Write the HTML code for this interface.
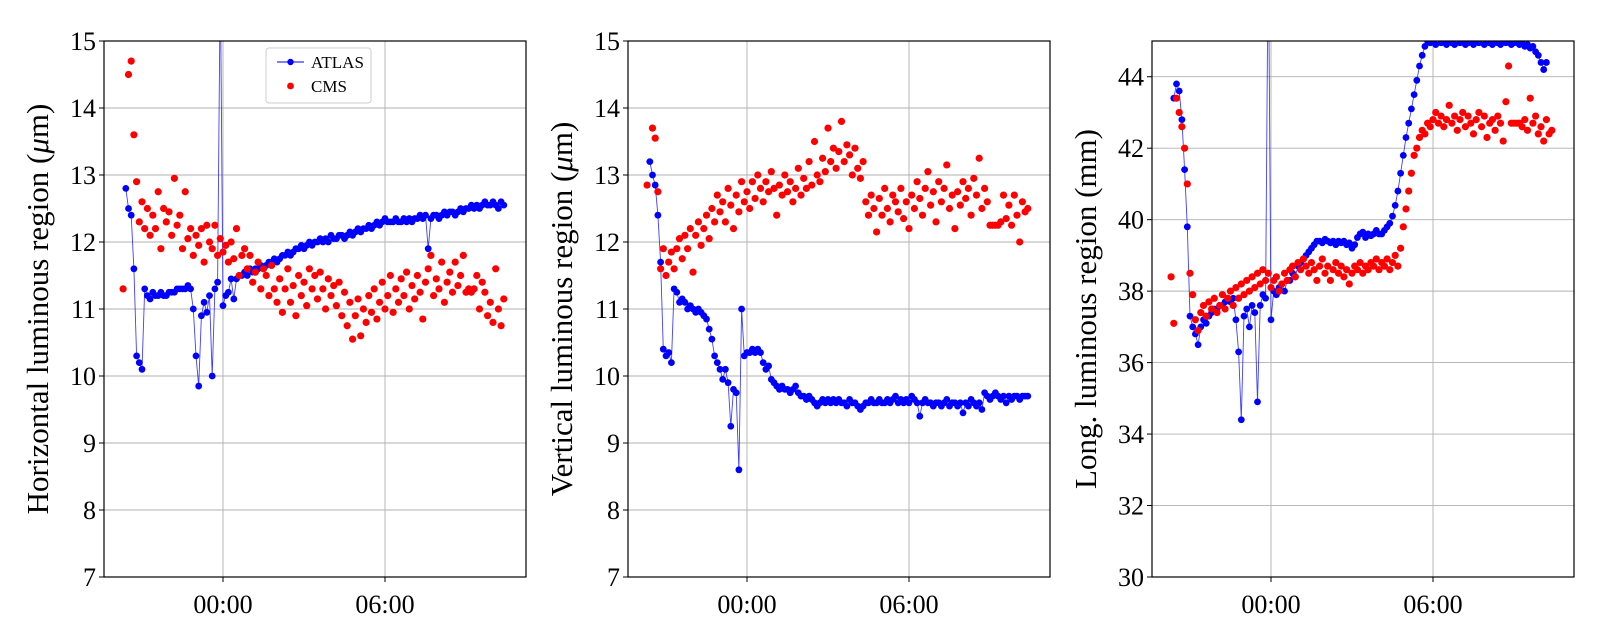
<!DOCTYPE html>
<html><head><meta charset="utf-8"><style>
html,body{margin:0;padding:0;background:#fff;}
svg{display:block;font-family:"Liberation Serif","DejaVu Serif",serif;}
</style></head><body>
<svg id="chart" width="1600" height="640" viewBox="0 0 1600 640" xmlns="http://www.w3.org/2000/svg"></svg>
<script>
const t0 = -3.7, dt = 0.1;
const atlasH = [null,12.8,12.5,12.4,11.6,10.3,10.2,10.1,11.3,
11.2,11.15,11.25,11.2,11.2,11.25,11.2,11.2,11.25,11.25,11.25,11.3,11.3,11.3,11.3,11.35,11.3,
11.0,10.3,9.85,10.9,11.1,10.95,11.2,10.0,11.3,11.4,16,11.05,11.2,11.25,11.45,11.15,11.45,
11.5,11.5,11.55,11.5,11.6,11.55,11.6,11.6,11.65,11.6,
11.65,11.7,11.7,11.75,11.7,11.75,11.8,11.8,11.85,11.8,
11.85,11.9,11.9,11.95,11.9,11.95,12.0,11.95,12.0,12.0,
12.05,12.0,12.05,12.0,12.1,12.05,12.05,12.1,12.1,12.05,
12.1,12.15,12.1,12.15,12.2,12.15,12.2,12.2,12.25,12.2,
12.25,12.3,12.25,12.3,12.35,12.3,12.3,12.3,12.35,12.3,
12.3,12.35,12.3,12.35,12.3,12.35,12.35,12.4,12.35,12.4,
11.9,12.35,12.4,12.4,12.35,12.4,12.45,12.4,12.45,12.45,
12.4,12.45,12.5,12.45,12.5,12.5,12.55,12.5,12.55,12.5,
12.55,12.6,12.55,12.55,12.6,12.55,12.5,12.6,12.55];
const cmsH = [11.3,null,14.5,14.7,13.6,12.9,12.3,12.6,12.2,12.5,12.1,12.4,12.2,12.75,11.9,12.5,12.3,12.45,12.1,12.95,
12.25,12.4,11.9,12.75,12.05,12.2,11.8,12.1,11.95,12.2,11.7,12.25,12.0,11.9,12.25,11.8,12.05,11.85,11.95,11.7,
12.0,11.75,12.2,11.5,11.8,11.9,11.6,11.8,11.4,11.55,11.7,11.3,11.6,11.5,11.2,11.65,11.3,11.1,11.45,10.95,
11.3,11.6,11.1,11.35,10.9,11.5,11.2,11.4,11.05,11.6,11.3,11.5,11.15,11.55,11.3,11.0,11.45,11.2,11.35,11.05,
11.4,10.9,11.25,10.75,11.1,10.55,10.9,11.15,10.6,11.0,10.8,11.2,10.95,11.3,10.85,11.1,11.4,11.0,11.2,11.5,
10.95,11.3,11.1,11.45,11.2,11.55,11.0,11.35,11.15,11.5,11.25,10.85,11.4,11.6,11.8,11.2,11.45,11.3,11.7,11.1,
11.4,11.55,11.25,11.7,11.35,11.5,11.8,11.25,11.3,11.25,11.3,11.5,11.0,11.4,11.25,10.9,11.1,10.8,11.6,11.0,10.75,11.15];
const atlasV = [null,13.2,13.0,12.85,12.4,11.7,10.4,10.3,10.35,10.2,11.3,11.25,11.1,11.15,11.1,11.0,11.05,11.0,10.95,11.0,
10.95,10.9,10.85,10.7,10.55,10.3,10.2,10.1,9.95,10.1,9.9,9.25,9.8,9.75,8.6,11.0,10.3,10.35,10.35,10.4,
10.35,10.4,10.35,10.2,10.1,10.15,9.95,9.9,9.85,9.8,9.85,9.8,9.8,9.75,9.8,9.85,9.75,9.7,9.7,9.65,
9.7,9.65,9.6,9.55,9.6,9.65,9.6,9.65,9.6,9.65,9.6,9.65,9.6,9.6,9.55,9.65,9.6,9.6,
9.55,9.5,9.55,9.6,9.6,9.65,9.6,9.6,9.65,9.6,9.6,9.65,9.6,9.65,9.7,9.6,9.65,9.6,9.65,9.6,
9.7,9.65,9.6,9.4,9.6,9.65,9.6,9.6,9.55,9.6,9.6,9.55,9.6,9.65,9.55,9.6,9.6,9.55,9.6,9.45,
9.6,9.55,9.65,9.6,9.55,9.6,9.5,9.75,9.7,9.65,9.7,9.75,9.7,9.65,9.7,9.6,9.7,9.65,9.7,9.7,9.65,9.7,9.7,9.7];
const cmsV = [12.85,null,13.7,13.55,12.75,11.6,11.9,11.5,11.7,11.85,11.6,11.9,12.05,11.75,12.1,11.9,12.2,11.55,12.1,12.3,
11.95,12.2,12.4,12.05,12.5,12.3,12.7,12.45,12.6,12.3,12.8,12.55,12.2,12.7,12.45,12.9,12.6,12.75,12.5,12.9,
12.65,13.0,12.8,12.6,12.9,12.75,13.05,12.8,12.4,12.85,12.7,13.0,12.75,12.9,12.6,12.8,13.1,12.7,12.95,12.8,
13.2,12.85,13.5,13.0,12.9,13.25,13.05,13.7,13.2,13.4,13.1,13.35,13.8,13.2,13.45,13.3,13.0,13.4,13.1,12.95,
13.2,12.6,12.4,12.7,12.5,12.15,12.65,12.4,12.8,12.5,12.3,12.7,12.6,12.45,12.8,12.35,12.6,12.2,12.7,12.5,
12.9,12.65,12.4,12.8,13.05,12.55,12.75,12.3,12.9,12.6,12.8,13.15,12.5,12.7,12.2,12.75,12.55,12.9,12.65,12.8,
12.4,12.95,12.7,13.25,12.5,12.8,12.6,12.25,12.25,12.25,12.25,12.3,12.7,12.35,12.55,12.25,12.7,12.4,12.0,12.6,12.45,12.5];
const atlasL = [null,43.4,43.8,43.6,42.8,41.4,39.8,37.3,37.0,36.8,36.5,37.0,37.2,37.1,37.3,37.4,37.5,37.5,37.6,37.6,
37.7,37.8,37.7,37.8,37.2,36.3,34.4,37.3,37.5,37.0,37.6,37.4,34.9,37.6,37.9,37.8,48,37.2,38.0,37.9,
38.1,38.2,38.0,38.3,38.3,38.5,38.4,38.7,38.8,38.9,39.0,39.1,39.2,39.3,39.4,39.4,39.35,39.45,39.4,39.35,
39.4,39.3,39.4,39.35,39.4,39.3,39.35,39.2,39.3,39.5,39.6,39.65,39.5,39.6,39.55,39.6,39.7,39.6,39.6,39.7,
39.8,39.9,40.1,40.4,40.8,41.3,41.8,42.3,42.7,43.1,43.5,43.9,44.3,44.6,44.85,45.0,44.95,45.05,44.9,45.1,
44.95,45.0,44.9,45.05,44.95,44.9,45.1,44.95,45.0,44.9,44.95,45.05,44.9,45.0,44.95,45.1,44.9,45.0,44.95,44.9,
45.05,44.95,44.9,45.0,44.95,45.05,44.9,44.95,45.0,44.9,44.95,44.85,44.9,44.8,44.85,44.7,44.6,44.4,44.2,44.4];
const cmsL = [38.4,37.1,43.4,43.0,42.6,42.0,41.0,38.5,37.9,37.2,36.9,37.4,37.6,37.3,37.7,37.5,37.8,37.4,37.6,37.9,
37.5,37.8,38.0,37.6,38.1,37.8,38.2,37.9,38.3,38.0,38.4,38.1,38.5,38.2,38.6,38.3,38.5,38.1,38.3,38.4,
38.0,38.2,38.5,38.3,38.6,38.7,38.4,38.8,38.6,38.9,38.7,38.5,38.8,38.6,38.3,38.7,38.9,38.5,38.7,38.3,
38.6,38.8,38.5,38.7,38.4,38.6,38.2,38.5,38.7,38.6,38.8,38.5,38.7,38.6,38.8,38.7,38.9,38.6,38.8,38.7,
38.9,38.6,38.8,39.0,38.7,39.2,39.8,40.3,40.8,41.3,41.8,42.0,42.3,42.5,42.4,42.7,42.6,42.8,43.0,42.7,
42.9,42.6,42.8,43.2,42.7,42.9,42.5,42.8,43.0,42.6,42.9,42.7,42.4,42.8,43.0,42.6,42.9,42.3,42.7,42.8,
42.5,42.9,42.7,42.2,43.3,44.3,42.7,42.7,42.7,42.7,42.6,42.8,42.5,43.4,42.7,42.9,42.4,42.6,42.2,42.8,42.4,42.5];
const xTicks = [0, 6];
const xTickLabels = ["00:00", "06:00"];
const yTicksA = [7,8,9,10,11,12,13,14,15];
const yTicksL = [30,32,34,36,38,40,42,44];

const NS = "http://www.w3.org/2000/svg";
const svg = document.getElementById("chart");
function mk(tag, attrs, parent) {
  const e = document.createElementNS(NS, tag);
  for (const k in attrs) e.setAttribute(k, attrs[k]);
  (parent || svg).appendChild(e);
  return e;
}
const TOP = 41, BOT = 577, W = 422;
const panels = [
  {left:104, ymin:7, ymax:15, ticks:yTicksA, title:"Horizontal luminous region (", unit:"μ", tail:"m)", atlas:atlasH, cms:cmsH, name:"horizontal"},
  {left:628, ymin:7, ymax:15, ticks:yTicksA, title:"Vertical luminous region (", unit:"μ", tail:"m)", atlas:atlasV, cms:cmsV, name:"vertical"},
  {left:1152, ymin:30, ymax:45, ticks:yTicksL, title:"Long. luminous region (mm)", unit:"", tail:"", atlas:atlasL, cms:cmsL, name:"longitudinal"}
];
panels.forEach((p, pi) => {
  const xS = t => p.left + 119 + 27 * t;
  const yS = v => BOT - (v - p.ymin) / (p.ymax - p.ymin) * (BOT - TOP);
  const g = mk("g", {});
  
  
  const cp = mk("clipPath", {id: "clip" + pi}, g);
  mk("rect", {x: p.left, y: TOP, width: W, height: BOT - TOP}, cp);
  p.ticks.forEach(v => {
    const y = yS(v);
    const ln = mk("line", {x1: p.left, x2: p.left + W, y1: y, y2: y, stroke: "#b0b0b0", "stroke-width": 0.9}, g);
    
    
    mk("line", {x1: p.left - 5, x2: p.left, y1: y, y2: y, stroke: "#000", "stroke-width": 1}, g);
    const tx = mk("text", {x: p.left - 8, y: y + 9, "text-anchor": "end", "font-size": 26}, g);
    tx.textContent = v;
    
    
  });
  xTicks.forEach((h, i) => {
    const x = xS(h);
    const ln = mk("line", {x1: x, x2: x, y1: TOP, y2: BOT, stroke: "#b0b0b0", "stroke-width": 0.9}, g);
    
    
    mk("line", {x1: x, x2: x, y1: BOT, y2: BOT + 5, stroke: "#000", "stroke-width": 1}, g);
    const tx = mk("text", {x: x, y: BOT + 36, "text-anchor": "middle", "font-size": 26}, g);
    tx.textContent = xTickLabels[i];
    
    
  });
  const dg = mk("g", {"clip-path": "url(#clip" + pi + ")"}, g);
  let d = "", started = false;
  p.atlas.forEach((v, i) => {
    if (v === null) { started = false; return; }
    const x = xS(t0 + dt * i), y = yS(v);
    d += (started ? "L" : "M") + x.toFixed(1) + " " + y.toFixed(1);
    started = true;
  });
  const line = mk("path", {d: d, fill: "none", stroke: "#0000ff", "stroke-width": 0.9, "stroke-opacity": 0.75}, dg);
  
  
  p.atlas.forEach((v, i) => {
    if (v === null) return;
    const c = mk("circle", {cx: xS(t0 + dt * i), cy: yS(v), r: 3.4, fill: "#0000ff"}, dg);
    
    
  });
  p.cms.forEach((v, i) => {
    if (v === null) return;
    const c = mk("circle", {cx: xS(t0 + dt * i), cy: yS(v), r: 3.6, fill: "#ff0000"}, dg);
    
    
  });
  const fr = mk("rect", {x: p.left, y: TOP, width: W, height: BOT - TOP, fill: "none", stroke: "#000", "stroke-width": 1.2}, g);
  
  
  const cy = (TOP + BOT) / 2, cx = p.left - 56;
  const tt = mk("text", {x: cx, y: cy, "text-anchor": "middle", "font-size": 31, transform: "rotate(-90 " + cx + " " + cy + ")"}, g);
  
  
  mk("tspan", {}, tt).textContent = p.title;
  if (p.unit) {
    mk("tspan", {"font-style": "italic"}, tt).textContent = p.unit;
    mk("tspan", {}, tt).textContent = p.tail;
  }
});
const lg = mk("g", {});


mk("rect", {x: 266, y: 48, width: 105, height: 55, rx: 3, fill: "#fff", "fill-opacity": 0.8, stroke: "#ccc", "stroke-width": 1}, lg);
mk("line", {x1: 277, x2: 304, y1: 62, y2: 62, stroke: "#0000ff", "stroke-width": 0.9}, lg);
const lc1 = mk("circle", {cx: 290.5, cy: 62, r: 3.2, fill: "#0000ff"}, lg);


const lt1 = mk("text", {x: 311, y: 68, "font-size": 17}, lg);
lt1.textContent = "ATLAS";


const lc2 = mk("circle", {cx: 290.5, cy: 86, r: 3.4, fill: "#ff0000"}, lg);


const lt2 = mk("text", {x: 311, y: 92, "font-size": 17}, lg);
lt2.textContent = "CMS";


</script>
</body></html>
